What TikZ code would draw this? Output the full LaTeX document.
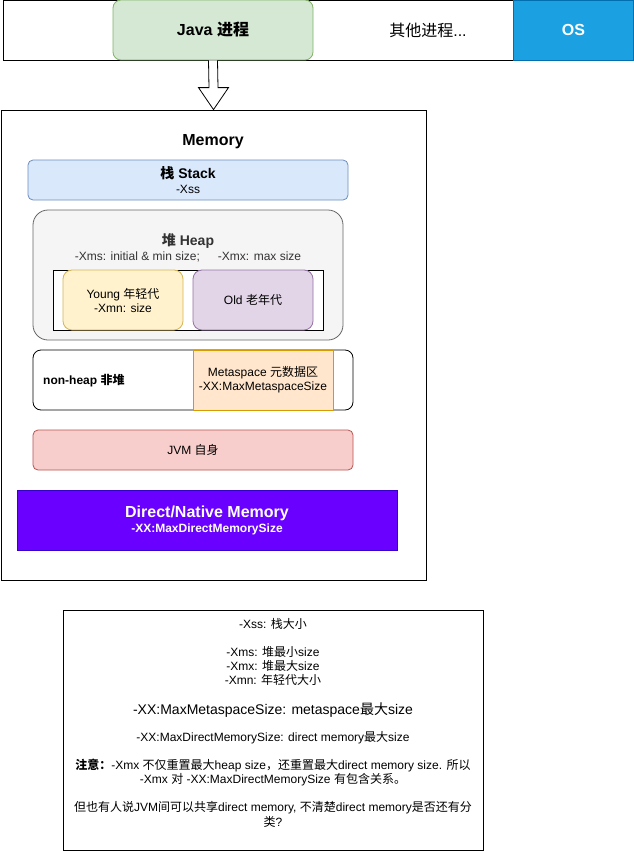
\documentclass[tikz,border=0pt]{standalone}
\usepackage{fontspec}
\setmainfont{Liberation Sans}
\newfontfamily\cjk{Noto Sans CJK SC}
\newcommand\zh[1]{{\cjk #1}}
\usetikzlibrary{calc}
\definecolor{javafill}{HTML}{D5E8D4}\definecolor{javadraw}{HTML}{82B366}
\definecolor{osfill}{HTML}{1BA1E2}\definecolor{osdraw}{HTML}{006EAF}
\definecolor{stackfill}{HTML}{DAE8FC}\definecolor{stackdraw}{HTML}{6C8EBF}
\definecolor{heapfill}{HTML}{F5F5F5}\definecolor{heapdraw}{HTML}{666666}
\definecolor{youngfill}{HTML}{FFF2CC}\definecolor{youngdraw}{HTML}{D6B656}
\definecolor{oldfill}{HTML}{E1D5E7}\definecolor{olddraw}{HTML}{9673A6}
\definecolor{metafill}{HTML}{FFE6CC}\definecolor{metadraw}{HTML}{D79B00}
\definecolor{jvmfill}{HTML}{F8CECC}\definecolor{jvmdraw}{HTML}{B85450}
\definecolor{dirfill}{HTML}{6A00FF}\definecolor{dirdraw}{HTML}{3700CC}
\tikzset{
  box/.style={draw, inner sep=0pt, line width=0.8pt},
  txt/.style={inner sep=0pt, align=center},
  f16b/.style={font=\fontsize{16}{19}\selectfont\bfseries},
  f16/.style={font=\fontsize{16}{19}\selectfont},
  f14b/.style={font=\fontsize{14}{17}\selectfont\bfseries},
  f14/.style={font=\fontsize{14}{17}\selectfont},
  f12/.style={font=\fontsize{12}{14}\selectfont},
  f12b/.style={font=\fontsize{12}{14}\selectfont\bfseries},
}
\begin{document}
\begin{tikzpicture}[x=1pt,y=-1pt]
\useasboundingbox (0,0) rectangle (634,851);
\fill[white] (0,0) rectangle (634,851);
% top bar
\node[box, minimum width=630, minimum height=59.5] (bar) at (318.5,30.25) {};
\node[box, fill=javafill, draw=javadraw, rounded corners=8pt, minimum width=200, minimum height=60, f16b] (java) at (213,30) {Java \zh{进程}};
\node[txt, f16] (other) at (428,30) {\zh{其他进程}...};
\node[box, fill=osfill, draw=osdraw, minimum width=120, minimum height=60, text=white, f16b] (os) at (573.5,30) {OS};
% memory box
\node[box, minimum width=425, minimum height=470] (mem) at (213.5,345) {};
\node[txt, f16b] (memt) at (213,142) {Memory};
% block arrow
\draw[line width=0.8pt, fill=white]
  ($(java.south)+(-4.5,0)$) -- ($(mem.north)+(-4.5,-22)$) -- ($(mem.north)+(-15,-22)$) -- (mem.north)
  -- ($(mem.north)+(15,-22)$) -- ($(mem.north)+(4.5,-22)$) -- ($(java.south)+(4.5,0)$);
% stack
\node[box, fill=stackfill, draw=stackdraw, rounded corners=5pt, minimum width=320, minimum height=40] (stack) at (188,180) {};
\node[txt, f14b] (stackt) at (188,173.5) {\zh{栈} Stack};
\node[txt, f12] (stacks) at (188,189.5) {-Xss};
% heap
\node[box, fill=heapfill, draw=heapdraw, rounded corners=15pt, minimum width=310, minimum height=130] (heap) at (188,275) {};
\node[txt, f14b, text=black!80] (heapt) at (188,241) {\zh{堆} Heap};
\node[txt, f12, text=black!80] (heaps) at (188,257) {-Xms: initial \& min size;\hspace{18pt}-Xmx: max size};
\node[box, fill=white, minimum width=270, minimum height=60] (gen) at (188,300) {};
\node[box, fill=youngfill, draw=youngdraw, rounded corners=9pt, minimum width=120, minimum height=60, f12, align=center] (young) at (123,300) {Young \zh{年轻代}\\-Xmn: size};
\node[box, fill=oldfill, draw=olddraw, rounded corners=9pt, minimum width=120, minimum height=60, f12] (old) at (253,300) {Old \zh{老年代}};
% non-heap
\node[box, fill=white, rounded corners=8pt, minimum width=320, minimum height=60] (nonheap) at (193,380) {};
\node[txt, f12b, anchor=west] (nonheapt) at (43,381) {non-heap \zh{非堆}};
\node[box, fill=metafill, draw=metadraw, minimum width=140, minimum height=60, f12, align=center] (meta) at (263,380) {Metaspace \zh{元数据区}\\-XX:MaxMetaspaceSize};
% jvm
\node[box, fill=jvmfill, draw=jvmdraw, rounded corners=5pt, minimum width=320, minimum height=40, f12] (jvm) at (193,450) {JVM \zh{自身}};
% direct
\node[box, fill=dirfill, draw=dirdraw, minimum width=380, minimum height=60] (direct) at (207,520) {};
\node[txt, f16b, text=white] (dirt) at (207,513) {Direct/Native Memory};
\node[txt, f12b, text=white] (dirs) at (207,529) {-XX:MaxDirectMemorySize};
% note box
\node[box, minimum width=420, minimum height=240] (note) at (273,730) {};
\node[txt, f12] (n1) at (273,624) {-Xss: \zh{栈大小}};
\node[txt, f12] (n2) at (273,652) {-Xms: \zh{堆最小}size};
\node[txt, f12] (n3) at (273,666) {-Xmx: \zh{堆最大}size};
\node[txt, f12] (n4) at (273,680) {-Xmn: \zh{年轻代大小}};
\node[txt, f14] (n5) at (273,710) {-XX:MaxMetaspaceSize: metaspace\zh{最大}size};
\node[txt, f12] (n6) at (273,738) {-XX:MaxDirectMemorySize: direct memory\zh{最大}size};
\node[txt, f12] (n7) at (273,766) {\textbf{\zh{注意：}}-Xmx \zh{不仅重置最大}heap size\zh{，还重置最大}direct memory size. \zh{所以}};
\node[txt, f12] (n8) at (273,780) {-Xmx \zh{对} -XX:MaxDirectMemorySize \zh{有包含关系。}};
\node[txt, f12] (n9) at (273,808) {\zh{但也有人说}JVM\zh{间可以共享}direct memory, \zh{不清楚}direct memory\zh{是否还有分}};
\node[txt, f12] (n10) at (273,822) {\zh{类}?};
\end{tikzpicture}
\end{document}
